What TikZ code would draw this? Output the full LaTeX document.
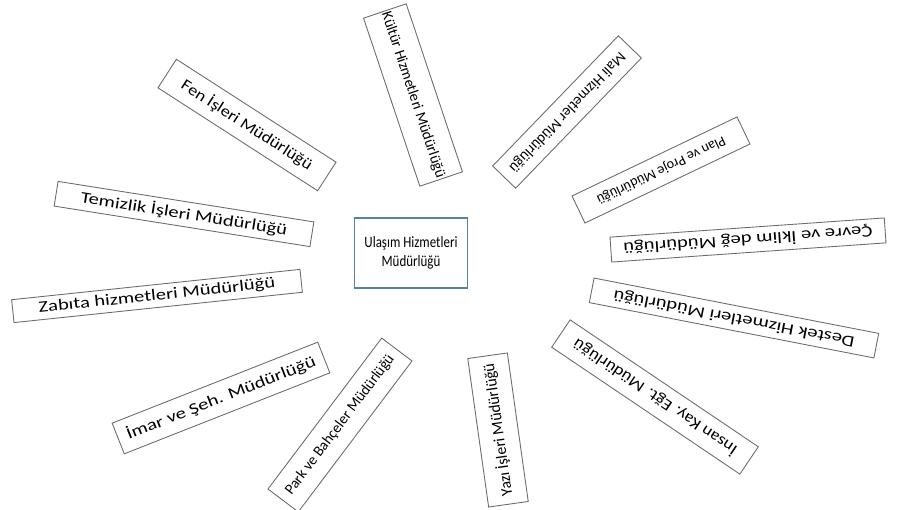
\documentclass[tikz,border=0pt]{standalone}
\usepackage{fontspec}
\setmainfont{Carlito}
\newfontfamily\genis[FakeStretch=1.3]{Carlito}
\newfontfamily\orta[FakeStretch=1.15]{Carlito}
\newfontfamily\dar[FakeStretch=0.82]{Carlito}
\definecolor{kenar}{RGB}{84,130,168}
\tikzset{
  birim/.style={draw=gray!85!black, line width=0.5pt, fill=white, inner sep=1pt,
    font=\fontsize{9}{11}\selectfont},
  merkez/.style={draw=kenar, line width=0.7pt, fill=white, align=center,
    minimum width=2.26cm, minimum height=1.4cm, font=\dar\fontsize{9}{11}\selectfont},
}
\begin{document}
\begin{tikzpicture}[x=0.02cm,y=-0.02cm]
    \useasboundingbox (0,0) rectangle (897,510);
    % merkez birim
    \node[merkez] (ulasim) at (411,253) {Ulaşım Hizmetleri\\Müdürlüğü};
    % sol taraf
    \node[birim, rotate=-71.5, minimum width=3.52cm, minimum height=0.9cm, font=\fontsize{8.5}{10}\selectfont] (kultur) at (413,95) {Kültür Hizmetleri Müdürlüğü};
    \node[birim, rotate=-32.8, minimum width=3.8cm, minimum height=0.68cm, font=\orta\fontsize{9}{11}\selectfont] (fen) at (247,125) {Fen İşleri Müdürlüğü};
    \node[birim, rotate=-9, minimum width=5.18cm, minimum height=0.5cm, font=\genis\fontsize{9}{11}\selectfont] (temizlik) at (184,214) {Temizlik İşleri Müdürlüğü};
    \node[birim, rotate=6, minimum width=5.8cm, minimum height=0.46cm, font=\genis\fontsize{9}{11}\selectfont] (zabita) at (157,296) {Zabıta hizmetleri Müdürlüğü};
    \node[birim, rotate=21.5, minimum width=4.42cm, minimum height=0.66cm, font=\genis\fontsize{9}{11}\selectfont] (imar) at (221,398) {İmar ve Şeh. Müdürlüğü};
    \node[birim, rotate=53, minimum width=3.78cm, minimum height=0.76cm, font=\fontsize{8.5}{10}\selectfont] (park) at (340,425) {Park ve Bahçeler Müdürlüğü};
    % alt ve sag taraf
    \node[birim, rotate=98, minimum width=3cm, minimum height=0.8cm] (yazi) at (498,430) {Yazı İşleri Müdürlüğü};
    \node[birim, rotate=146, minimum width=4.54cm, minimum height=0.66cm, font=\orta\fontsize{9}{11}\selectfont] (insan) at (655,397) {İnsan Kay. Eğt. Müdürlüğü};
    \node[birim, rotate=169, minimum width=5.8cm, minimum height=0.5cm, font=\genis\fontsize{9}{11}\selectfont] (destek) at (734,318) {Destek Hizmetleri Müdürlüğü};
    \node[birim, rotate=184, minimum width=5.5cm, minimum height=0.5cm, font=\genis\fontsize{9}{11}\selectfont] (cevre) at (748,240) {Çevre ve İklim değ Müdürlüğü};
    \node[birim, rotate=205.6, minimum width=3.66cm, minimum height=0.6cm, font=\fontsize{8}{10}\selectfont] (plan) at (661,170) {Plan ve Proje Müdürlüğü};
    \node[birim, rotate=226, minimum width=3.62cm, minimum height=0.64cm, font=\fontsize{8.5}{10}\selectfont] (mali) at (567,112) {Mali Hizmetler Müdürlüğü};
\end{tikzpicture}
\end{document}
